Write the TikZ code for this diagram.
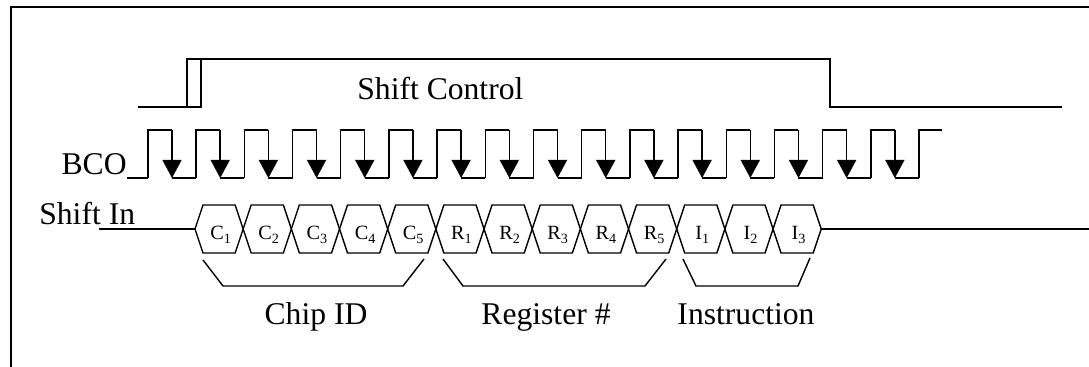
\documentclass[tikz,border=0pt]{standalone}
\usepackage{fontspec}
\setmainfont{Liberation Serif}
\usetikzlibrary{arrows.meta}
\tikzset{%
    sig/.style={line width=0.8pt},
    lbl/.style={inner sep=0pt,font=\fontsize{18}{20}\selectfont},
    cell/.style={inner sep=0pt,font=\fontsize{11.5}{13}\selectfont}
}

\begin{document}
\begin{tikzpicture}[
                x=0.02cm, y=-0.02cm,
                clk/.style={sig,-{Triangle[width=3.8mm,length=3.6mm]}},
                hexa/.style={sig,line join=miter}
            ]
            \useasboundingbox (0,0) rectangle (1089,367);
            \draw[sig] (11,367) -- (11,7) -- (1089,7);

            \node[lbl,anchor=base west] (ctrl) at (357,100) {Shift Control};
            \node[lbl,anchor=base east] (bco) at (127,175) {BCO};
            \node[lbl,anchor=base west] (sin) at (39,225) {Shift In};
            \node[lbl,anchor=base] (chip) at (316,325) {Chip ID};
            \node[lbl,anchor=base] (reg) at (546,325) {Register \#};
            \node[lbl,anchor=base] (instr) at (746,325) {Instruction};

            \draw[sig] (138,107) -- (187,107) -- (187,59) -- (830,59) -- (830,107) -- (1062,107);
            \draw[sig] (187,59) rectangle (201,107);

            \draw[sig] (127,178) -- (148,178);
            \foreach \k in {0,...,15}{
                \pgfmathsetmacro{\r}{148+48.19*\k}
                \draw[sig] (\r,178) -- (\r,130) -- (\r+24,130);
                \draw[clk] (\r+24,130) -- (\r+24,178);
                \draw[sig] (\r+24,178) -- (\r+48.19,178);
            }
            \draw[sig] (919,178) -- (919,130) -- (942,130);

            \foreach \l/\n [count=\i from 0] in {C/1,C/2,C/3,C/4,C/5,R/1,R/2,R/3,R/4,R/5,I/1,I/2,I/3}{
                \pgfmathsetmacro{\a}{195+48.17*\i}
                \pgfmathsetmacro{\b}{\a+48.17}
                \draw[hexa] (\a,229) -- (\a+8,205) -- (\b-8,205) -- (\b,229) -- (\b-8,253) -- (\a+8,253) -- cycle;
                \node[cell,anchor=base] (cell\i) at (\a+26,240) {\l\textsubscript{\n}};
            }
            \draw[sig] (99,229) -- (195,229);
            \draw[sig] (821,229) -- (1089,229);

            \draw[sig] (203,260) -- (223,286) -- (403,286) -- (424,259);
            \draw[sig] (443,259) -- (463,286) -- (645,286) -- (666,259);
            \draw[sig] (683,259) -- (696,286) -- (798,286) -- (810,258);
        \end{tikzpicture}
\end{document}
